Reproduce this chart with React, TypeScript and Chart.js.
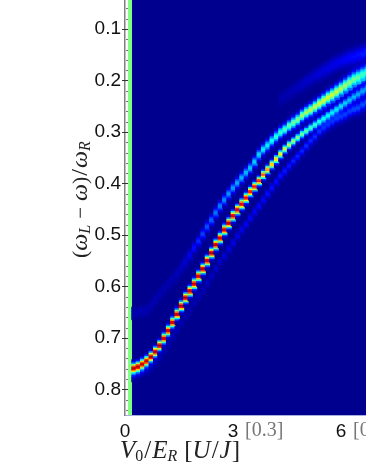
import React, { useEffect, useRef } from "react";
import { Chart, registerables } from "chart.js";

Chart.register(...registerables);

const yTickValues = [0.1, 0.2, 0.3, 0.4, 0.5, 0.6, 0.7, 0.8];
const yMinorValues = [0.06,0.08,0.12,0.14,0.16,0.18,0.22,0.24,0.26,0.28,0.32,0.34,0.36,0.38,0.42,0.44,0.46,0.48,0.52,0.54,0.56,0.58,0.62,0.64,0.66,0.68,0.72,0.74,0.76,0.78,0.82,0.84];
const xTickValues = [0, 3, 6];
const xTickBrackets = ["", "[0.3]", "[0.6]"];

const columnX = [0.25,0.37,0.49,0.61,0.73,0.85,0.97,1.09,1.21,1.33,1.45,1.57,1.69,1.81,1.93,2.05,2.17,2.29,2.41,2.53,2.65,2.77,2.89,3.01,3.13,3.25,3.37,3.49,3.61,3.73,3.85,3.97,4.09,4.21,4.33,4.45,4.57,4.69,4.81,4.93,5.05,5.17,5.29,5.41,5.53,5.65,5.77,5.89,6.01,6.13,6.25,6.37,6.49,6.61,6.73];

const mainRidge = [0.760,0.757,0.752,0.746,0.738,0.728,0.716,0.702,0.687,0.671,0.655,0.639,0.623,0.610,0.596,0.581,0.567,0.551,0.536,0.520,0.507,0.491,0.478,0.464,0.452,0.441,0.429,0.417,0.407,0.396,0.384,0.374,0.364,0.354,0.344,0.334,0.326,0.319,0.312,0.305,0.299,0.293,0.287,0.281,0.275,0.269,0.263,0.257,0.251,0.245,0.239,0.233,0.228,0.222,0.218];
const mainPeak = [0.97,0.97,0.97,0.97,0.97,0.97,0.97,0.97,0.97,0.97,0.97,0.97,0.97,0.97,0.97,0.97,0.97,0.97,0.97,0.97,0.97,0.97,0.97,0.95,0.94,0.93,0.92,0.91,0.90,0.88,0.82,0.76,0.72,0.68,0.64,0.6,0.57,0.54,0.52,0.5,0.48,0.46,0.44,0.42,0.4,0.39,0.37,0.36,0.35,0.33,0.32,0.31,0.3,0.29,0.28];
const mainSpread = [0.006,0.006,0.006,0.006,0.006,0.006,0.006,0.006,0.006,0.006,0.006,0.006,0.006,0.006,0.006,0.006,0.006,0.006,0.006,0.006,0.006,0.006,0.006,0.006,0.006,0.006,0.0058,0.0056,0.0054,0.0052,0.0052,0.0052,0.0052,0.0052,0.0052,0.0052,0.0052,0.0052,0.0052,0.0053,0.0053,0.0054,0.0054,0.0055,0.0056,0.0057,0.0058,0.0058,0.0059,0.006,0.006,0.0061,0.0062,0.0063,0.0064];

const upperRidge = [0.653,0.651,0.649,0.647,0.637,0.626,0.616,0.606,0.596,0.587,0.577,0.565,0.553,0.540,0.526,0.513,0.499,0.485,0.472,0.458,0.445,0.433,0.421,0.410,0.400,0.390,0.380,0.371,0.359,0.345,0.335,0.327,0.318,0.310,0.302,0.296,0.289,0.283,0.277,0.269,0.263,0.258,0.252,0.246,0.240,0.234,0.229,0.223,0.217,0.211,0.205,0.199,0.195,0.190,0.186];
const upperPeak = [0.04,0.04,0.04,0.04,0.04,0.04,0.04,0.04,0.04,0.04,0.05,0.06,0.08,0.11,0.14,0.17,0.19,0.21,0.23,0.25,0.26,0.27,0.28,0.29,0.3,0.31,0.32,0.33,0.34,0.35,0.37,0.38,0.4,0.42,0.44,0.46,0.48,0.5,0.52,0.54,0.55,0.57,0.58,0.6,0.6,0.6,0.59,0.58,0.56,0.54,0.52,0.5,0.48,0.45,0.43];
const upperSpread = [0.0075,0.0075,0.0075,0.0075,0.0075,0.0075,0.0075,0.0075,0.0075,0.0075,0.0075,0.0075,0.0075,0.007,0.0065,0.0065,0.0065,0.0065,0.0065,0.0065,0.0065,0.0065,0.0065,0.0065,0.0065,0.0065,0.0065,0.0066,0.0066,0.0067,0.0067,0.0068,0.0068,0.0069,0.007,0.007,0.0071,0.0072,0.0073,0.0074,0.0075,0.0076,0.0077,0.0079,0.0081,0.0083,0.0085,0.0087,0.009,0.0092,0.0095,0.0097,0.01,0.0102,0.0105];

const lowerRidge = [0.773,0.770,0.766,0.762,0.756,0.748,0.738,0.726,0.713,0.699,0.686,0.672,0.659,0.647,0.633,0.620,0.608,0.594,0.581,0.567,0.553,0.542,0.528,0.516,0.503,0.491,0.480,0.468,0.456,0.445,0.433,0.421,0.409,0.398,0.386,0.377,0.367,0.357,0.348,0.338,0.328,0.318,0.310,0.300,0.293,0.287,0.281,0.275,0.271,0.267,0.261,0.257,0.254,0.248,0.244];
const lowerPeak = [0.11,0.11,0.1,0.08,0.06,0.05,0.04,0.04,0.04,0.04,0.04,0.04,0.04,0.04,0.04,0.05,0.05,0.06,0.06,0.07,0.07,0.08,0.09,0.1,0.1,0.11,0.11,0.12,0.12,0.13,0.13,0.14,0.14,0.14,0.15,0.15,0.15,0.16,0.16,0.16,0.17,0.17,0.17,0.18,0.18,0.18,0.18,0.19,0.19,0.19,0.19,0.2,0.2,0.2,0.2];
const lowerSpread = [0.0055,0.0055,0.0055,0.0055,0.0055,0.0055,0.005,0.005,0.005,0.005,0.005,0.005,0.005,0.005,0.005,0.005,0.005,0.005,0.005,0.005,0.005,0.005,0.005,0.005,0.005,0.005,0.005,0.005,0.005,0.005,0.005,0.005,0.0052,0.0052,0.0052,0.0054,0.0054,0.0054,0.0056,0.0056,0.0058,0.0058,0.006,0.006,0.0062,0.0064,0.0064,0.0066,0.0068,0.007,0.0072,0.0074,0.0076,0.0078,0.008];

const topFirstColumn = 34;
const topRidge = [0.236,0.231,0.225,0.219,0.215,0.209,0.203,0.198,0.192,0.188,0.182,0.178,0.172,0.168,0.164,0.161,0.157,0.155,0.151,0.149,0.145];
const topPeak = [0.03,0.035,0.04,0.045,0.05,0.06,0.065,0.07,0.075,0.085,0.09,0.095,0.1,0.105,0.11,0.12,0.13,0.135,0.14,0.15,0.16];
const topSpread = [0.009,0.009,0.009,0.009,0.009,0.009,0.009,0.009,0.009,0.009,0.0095,0.0095,0.0095,0.0095,0.0095,0.01,0.01,0.01,0.01,0.01,0.01];

const bandProfile = [1, 0.88, 0.61, 0.32, 0.14, 0.04, 0.01, 0];
const stripValue = 0.5;
const ROW = 0.0031;

const jetStops: [number, number[]][] = [
  [0, [0, 0, 143]],
  [0.125, [0, 0, 255]],
  [0.375, [0, 255, 255]],
  [0.625, [255, 255, 0]],
  [0.875, [255, 0, 0]],
  [1, [128, 0, 0]],
];

function jet(v: number) {
  const t = Math.max(0, Math.min(1, v));
  for (let i = 1; i < jetStops.length; i++) {
    const [b, cb] = jetStops[i];
    const [a, ca] = jetStops[i - 1];
    if (t <= b) {
      const f = (t - a) / (b - a);
      return `rgb(${ca.map((c, j) => Math.round(c + (cb[j] - c) * f)).join(",")})`;
    }
  }
  return "rgb(128,0,0)";
}

function profileAt(d: number) {
  const p = d * 2;
  const i = Math.floor(p);
  if (i >= bandProfile.length - 1) return 0;
  return bandProfile[i] + (bandProfile[i + 1] - bandProfile[i]) * (p - i);
}

function buildCells() {
  const branches = [
    { from: 0, ridge: mainRidge, peak: mainPeak, spread: mainSpread },
    { from: 0, ridge: upperRidge, peak: upperPeak, spread: upperSpread },
    { from: 0, ridge: lowerRidge, peak: lowerPeak, spread: lowerSpread },
    { from: topFirstColumn, ridge: topRidge, peak: topPeak, spread: topSpread },
  ];
  const grid = new Map<string, number>();
  branches.forEach((b) => {
    b.ridge.forEach((r, i) => {
      const col = b.from + i;
      const s = b.spread[i];
      const r0 = Math.floor((r - 3.5 * s) / ROW);
      const r1 = Math.ceil((r + 3.5 * s) / ROW);
      for (let row = r0; row <= r1; row++) {
        const v = b.peak[i] * profileAt(Math.abs(row * ROW - r) / s);
        if (v > 0) {
          const key = col + ":" + row;
          grid.set(key, (grid.get(key) || 0) + v);
        }
      }
    });
  });
  const data: any[] = [];
  const colors: string[] = [];
  grid.forEach((v, key) => {
    if (v < 0.012) return;
    const [c, r] = key.split(":").map(Number);
    data.push({ x: columnX[c], y: [r * ROW - ROW * 0.55, r * ROW + ROW * 0.55] });
    colors.push(jet(v));
  });
  return { data, colors };
}

type Run = { t: string; f: string; dy?: number; dx?: number };

function drawRuns(ctx: CanvasRenderingContext2D, runs: Run[], color: string) {
  let x = 0;
  ctx.fillStyle = color;
  ctx.textBaseline = "alphabetic";
  ctx.textAlign = "left";
  runs.forEach((r) => {
    ctx.font = r.f;
    x += r.dx || 0;
    ctx.fillText(r.t, x, r.dy || 0);
    x += ctx.measureText(r.t).width;
  });
}

const serif = '"Liberation Serif"';
const yTitleRuns: Run[] = [
  { t: "(", f: `22px ${serif}` },
  { t: "ω", f: `italic 24px ${serif}` },
  { t: "L", f: `italic 16px ${serif}`, dy: 3 },
  { t: "−", f: `21px ${serif}`, dx: 6 },
  { t: "ω", f: `italic 24px ${serif}`, dx: 6 },
  { t: ")", f: `22px ${serif}` },
  { t: "/", f: `24px ${serif}`, dx: 1 },
  { t: "ω", f: `italic 24px ${serif}`, dx: 1 },
  { t: "R", f: `italic 16px ${serif}`, dy: 3 },
];
const xTitleRuns: Run[] = [
  { t: "V", f: `italic 25px ${serif}` },
  { t: "0", f: `16px ${serif}`, dy: 3 },
  { t: "/", f: `25px ${serif}`, dx: 1 },
  { t: "E", f: `italic 25px ${serif}`, dx: 1 },
  { t: "R", f: `italic 16px ${serif}`, dy: 3 },
  { t: "[", f: `25px ${serif}`, dx: 7 },
  { t: "U", f: `italic 25px ${serif}` },
  { t: "/", f: `25px ${serif}`, dx: 1 },
  { t: "J", f: `italic 25px ${serif}`, dx: 1 },
  { t: "]", f: `25px ${serif}`, dx: 1 },
];

const paperPlugin = {
  id: "paper",
  beforeDatasetsDraw(chart: any) {
    const { ctx, chartArea, scales } = chart;
    const left = scales.x.getPixelForValue(0.194);
    ctx.save();
    ctx.fillStyle = jet(0);
    ctx.fillRect(left, chartArea.top, chartArea.right - left, chartArea.bottom - chartArea.top);
    ctx.restore();
  },
  afterDraw(chart: any) {
    const { ctx, scales, chartArea } = chart;
    ctx.save();
    ctx.strokeStyle = "#333";
    ctx.lineWidth = 1;
    yTickValues.forEach((v) => {
      const p = Math.round(scales.y.getPixelForValue(v)) + 0.5;
      ctx.beginPath();
      ctx.moveTo(chartArea.left - 3, p);
      ctx.lineTo(chartArea.left + 3, p);
      ctx.stroke();
    });
    ctx.strokeStyle = "#777";
    yMinorValues.forEach((v) => {
      const p = Math.round(scales.y.getPixelForValue(v)) + 0.5;
      ctx.beginPath();
      ctx.moveTo(chartArea.left + 1, p);
      ctx.lineTo(chartArea.left + 3, p);
      ctx.stroke();
    });
    ctx.fillStyle = "#777";
    ctx.font = `20px ${serif}`;
    ctx.textAlign = "left";
    ctx.textBaseline = "alphabetic";
    xTickValues.forEach((v, i) => {
      if (!xTickBrackets[i]) return;
      ctx.fillText(xTickBrackets[i], scales.x.getPixelForValue(v) + 12, 436);
    });
    ctx.translate(120, 458);
    drawRuns(ctx, xTitleRuns, "#222");
    ctx.restore();
    ctx.save();
    ctx.translate(87, 258);
    ctx.rotate(-Math.PI / 2);
    drawRuns(ctx, yTitleRuns, "#222");
    ctx.restore();
  },
};

export default function App() {
  const ref = useRef<HTMLCanvasElement>(null);
  useEffect(() => {
    const { data, colors } = buildCells();
    const chart = new Chart(ref.current!, {
      type: "bar",
      data: {
        datasets: [
          {
            label: "strip",
            data: [{ x: 0.139, y: [0.0436, 0.85] }],
            backgroundColor: jet(stripValue),
            barThickness: 4,
            inflateAmount: 0,
            order: 2,
          },
          {
            label: "spectrum",
            data,
            backgroundColor: colors,
            barThickness: 4.6,
            order: 1,
          },
        ] as any,
      },
      options: {
        responsive: false,
        animation: false,
        parsing: { xAxisKey: "x", yAxisKey: "y" },
        layout: { padding: 0 },
        datasets: { bar: { grouped: false } },
        plugins: { legend: { display: false }, tooltip: { enabled: false } },
        scales: {
          x: {
            type: "linear",
            offset: false,
            min: 0,
            max: 6.694,
            afterFit: (s: any) => { s.height = 58; s.paddingLeft = 0; s.paddingRight = 0; },
            afterBuildTicks: (s: any) => { s.ticks = xTickValues.map((value) => ({ value })); },
            grid: { display: false, drawTicks: false },
            border: { color: "#a8aede", width: 1 },
            ticks: {
              autoSkip: false,
              maxRotation: 0,
              padding: 5,
              color: "#111",
              font: { family: "Liberation Sans", size: 19 },
              callback: (v: any) => String(v),
            },
          },
          y: {
            type: "linear",
            reverse: true,
            min: 0.0436,
            max: 0.85,
            afterFit: (s: any) => { s.width = 125; s.paddingTop = 0; s.paddingBottom = 0; },
            afterBuildTicks: (s: any) => { s.ticks = yTickValues.map((value) => ({ value })); },
            grid: { display: false, drawTicks: false },
            border: { color: "#7f7f7f", width: 1.5 },
            ticks: {
              autoSkip: false,
              padding: 4,
              color: "#111",
              font: { family: "Liberation Sans", size: 19 },
              callback: (v: any) => Number(v).toFixed(1),
            },
          },
        },
      } as any,
      plugins: [paperPlugin],
    });
    return () => chart.destroy();
  }, []);
  return (
    <div style={{ position: "fixed", left: 0, top: 0, width: 366, height: 473, overflow: "hidden", background: "#fff" }}>
      <canvas ref={ref} width={366} height={473} style={{ display: "block", filter: "blur(0.45px)" }} />
    </div>
  );
}
